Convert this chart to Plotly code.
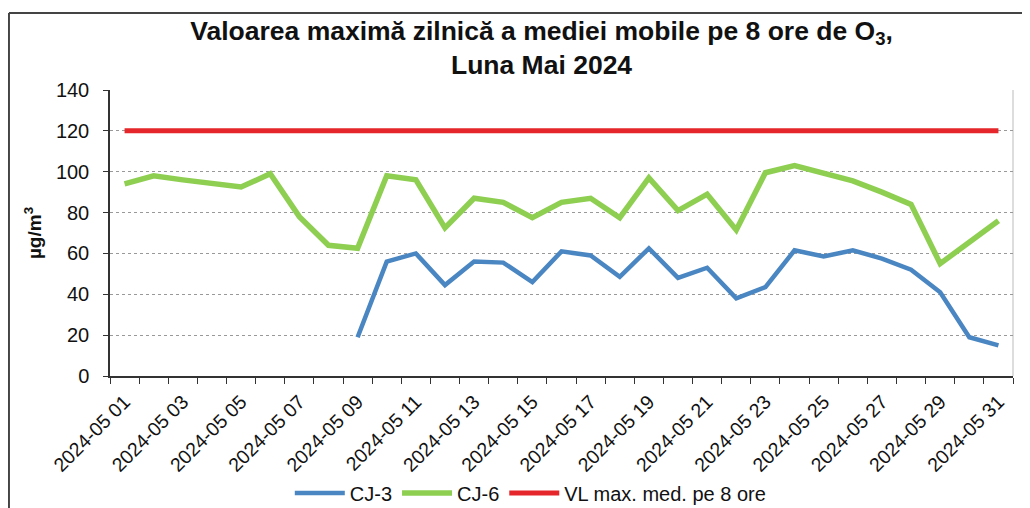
import plotly.graph_objects as go

dates = [f"2024-05-{d:02d}" for d in range(1, 32)]
tick_dates = dates[::2]
tick_labels = [f"2024-05 {d:02d}" for d in range(1, 32, 2)]

cj3 = [None, None, None, None, None, None, None, None,
       19, 56, 60, 44.5, 56, 55.5, 46, 61, 59, 48.5, 62.5, 48,
       53, 38, 43.5, 61.5, 58.5, 61.5, 57.5, 52, 41, 19, 15]
cj6 = [94, 98, 96, 94.5, 92.5, 99, 78, 64, 62.5, 98,
       96, 72.5, 87, 85, 77.5, 85, 87, 77.5, 97, 81,
       89, 71.5, 99.5, 103, 99, 95.5, 90, 84, 55, 65.5, 76]
vl = [120] * 31

FONT = "Liberation Sans, Arial, sans-serif"

fig = go.Figure()
fig.add_trace(go.Scatter(x=dates, y=cj3, name="CJ-3", mode="lines",
                         line=dict(color="#4a86c2", width=4.5)))
fig.add_trace(go.Scatter(x=dates, y=cj6, name="CJ-6", mode="lines",
                         line=dict(color="#8ecf52", width=5.5)))
fig.add_trace(go.Scatter(x=dates, y=vl, name="VL max. med. pe 8 ore", mode="lines",
                         line=dict(color="#e5262a", width=5)))

fig.update_layout(
    width=1030, height=508,
    margin=dict(l=102, r=25, t=82, b=140, autoexpand=False),
    paper_bgcolor="white", plot_bgcolor="white",
    font=dict(family=FONT, color="#111"),
    title=dict(text="<b>Valoarea maximă zilnică a mediei mobile pe 8 ore de O<sub>3</sub>,<br>Luna Mai 2024</b>",
               x=0.518, xanchor="center", xref="container",
               y=1 - 31.5 / 508, yanchor="middle", yref="container",
               font=dict(family=FONT, size=26.5, color="#111")),
    showlegend=True,
    legend=dict(orientation="h", x=0.466, xanchor="center", y=-0.409, yanchor="middle",
                font=dict(size=20, color="#111"), itemwidth=50,
                bgcolor="rgba(0,0,0,0)"),
    xaxis=dict(
        type="date", automargin=False,
        range=["2024-04-30 12:00", "2024-05-31 12:00"],
        tickvals=tick_dates, ticktext=tick_labels,
        tickangle=-45, ticks="", tickfont=dict(size=19.5), ticklabelstandoff=5,
        showline=True, linecolor="#333", linewidth=1.5,
        showgrid=False, zeroline=False,
        minor=dict(tick0="2024-04-30 12:00", dtick=86400000, ticks="outside",
                   ticklen=6, tickcolor="#333", showgrid=False),
    ),
    yaxis=dict(
        range=[0, 140], dtick=20, tickfont=dict(size=20), automargin=False,
        ticks="outside", ticklen=5, tickcolor="#333", ticklabelstandoff=10,
        showline=True, linecolor="#333", linewidth=1.5,
        showgrid=True, gridcolor="#999", griddash="dot", gridwidth=1,
        zeroline=False,
        title=dict(text="<b>µg/m<sup>3</sup></b>", font=dict(size=19), standoff=9),
    ),
    shapes=[
        dict(type="line", xref="paper", yref="paper",
             x0=-0.1119, x1=-0.1119, y0=-0.5, y1=1.2692,
             line=dict(color="#444", width=2), layer="below"),
        dict(type="line", xref="paper", yref="paper",
             x0=-0.1119, x1=1.05, y0=1.2692, y1=1.2692,
             line=dict(color="#444", width=2), layer="below"),
        dict(type="line", xref="paper", yref="paper",
             x0=1, x1=1, y0=0, y1=1,
             line=dict(color="#bbb", width=1), layer="below"),
    ],
)

fig.write_html("out.html")
